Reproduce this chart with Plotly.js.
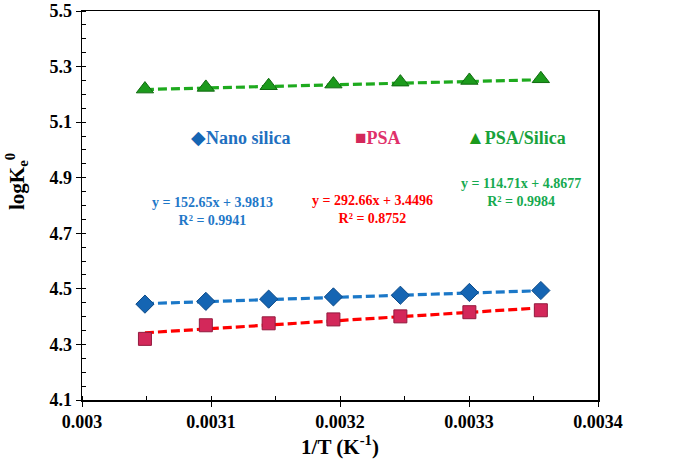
<!DOCTYPE html>
<html>
<head>
<meta charset="utf-8">
<script src="https://cdn.plot.ly/plotly-3.0.1.min.js"></script>
<style>html,body{margin:0;padding:0;background:#fff;}#chart{width:685px;height:464px;}</style>
</head>
<body>
<div id="chart"></div>
<script>
// 1/T values (K^-1) for 328, 323, 318, 313, 308, 303, 298 K
const invT = [0.0030488, 0.0030960, 0.0031447, 0.0031949, 0.0032468, 0.0033003, 0.0033557];
const nanoSilica = [4.445, 4.455, 4.463, 4.471, 4.477, 4.487, 4.494];
const psa = [4.320, 4.369, 4.376, 4.390, 4.401, 4.416, 4.423];
const psaSilica = [5.219, 5.225, 5.231, 5.237, 5.244, 5.250, 5.256];

const seriesNames = ["Nano silica", "PSA", "PSA/Silica"];
const slopes = [152.65, 292.66, 114.71];
const intercepts = [3.9813, 3.4496, 4.8677];
const r2 = ["0.9941", "0.8752", "0.9984"];

const xTicks = [0.003, 0.0031, 0.0032, 0.0033, 0.0034];
const xTickText = ["0.003", "0.0031", "0.0032", "0.0033", "0.0034"];
const yTicks = [4.1, 4.3, 4.5, 4.7, 4.9, 5.1, 5.3, 5.5];

const ys = [nanoSilica, psa, psaSilica];
const lineColors = ["#1B78C8", "#FF0000", "#1EAA1E"];
const markerColors = ["#1565B3", "#D3285A", "#1C9A1C"];
const markerEdge = ["#0C4A88", "#931A3E", "#0F6A0F"];
const symbols = ["diamond", "square", "triangle-up"];
const sizes = [14, 13, 15];
const textColors = ["#1F70C0", "#E0306A", "#17A23A"];
const eqColors = ["#1F78C8", "#FF0000", "#16AA50"];

const T = 11, B = 64, L = 82, R = 87;
const PH = 464 - T - B, PW = 685 - L - R;

const traces = [];
for (let i = 0; i < 3; i++) {
  const xs = [invT[0], invT[invT.length - 1]];
  traces.push({
    x: xs, y: xs.map(v => slopes[i] * v + intercepts[i]),
    mode: "lines", type: "scatter", showlegend: false, hoverinfo: "skip",
    line: {color: lineColors[i], width: 3.2, dash: "9px,4px"}
  });
}
for (let i = 0; i < 3; i++) {
  traces.push({
    x: invT, y: ys[i], mode: "markers", type: "scatter", name: seriesNames[i], showlegend: false,
    marker: {symbol: symbols[i], size: sizes[i], color: markerColors[i], line: {color: markerEdge[i], width: 1}}
  });
}

const glyphs = ["◆", "■", "▲"];
const legendPos = [[189, 137], [353, 137], [464, 137]];
const eqPos = [[212, 211], [372, 209], [521, 193]];
const serif = "Liberation Serif, Times New Roman, serif";

const annotations = [];
for (let i = 0; i < 3; i++) {
  annotations.push({
    xref: "paper", yref: "paper", xanchor: "left", yanchor: "middle",
    x: (legendPos[i][0] - L) / PW, y: 1 - (legendPos[i][1] - T) / PH,
    showarrow: false,
    text: '<span style="color:' + markerColors[i] + ';font-size:19px">' + glyphs[i] + '</span><b>' + seriesNames[i] + '</b>',
    font: {family: serif, size: 18, color: textColors[i]}
  });
  const sign = intercepts[i] >= 0 ? " + " : " - ";
  annotations.push({
    xref: "paper", yref: "paper", xanchor: "center", yanchor: "middle",
    x: (eqPos[i][0] - L) / PW, y: 1 - (eqPos[i][1] - T) / PH,
    showarrow: false, align: "center",
    text: "<b>y = " + slopes[i].toFixed(2) + "x" + sign + Math.abs(intercepts[i]).toFixed(4) + "</b><br><b>R² = " + r2[i] + "</b>",
    font: {family: serif, size: 14, color: eqColors[i]}
  });
}
// y-axis title placed as rotated annotation
annotations.push({
  xref: "paper", yref: "paper", xanchor: "center", yanchor: "middle",
  x: (16 - L) / PW, y: 1 - (182 - T) / PH, textangle: -90, showarrow: false,
  text: "<b>logK<sub>e</sub><sup>0</sup></b>",
  font: {family: serif, size: 21, color: "#000"}
});

const axisFont = {family: serif, size: 18, color: "#000"};
const layout = {
  width: 685, height: 464,
  margin: {l: L, r: R, t: T, b: B},
  paper_bgcolor: "#fff", plot_bgcolor: "#fff",
  showlegend: false,
  font: {family: serif, color: "#000"},
  xaxis: {
    range: [0.003, 0.0034], tickvals: xTicks, ticktext: xTickText.map(t => "<b>" + t + "</b>"),
    showgrid: false, zeroline: false, showline: true, linecolor: "#000", linewidth: 1.5, mirror: true,
    ticks: "outside", ticklen: 5, tickcolor: "#000", tickwidth: 1,
    minor: {dtick: 0.00005, ticks: "inside", ticklen: 4, tickcolor: "#000", showgrid: false},
    tickfont: axisFont,
    title: {text: "<b>1/T (K<sup>-1</sup>)</b>", font: {family: serif, size: 21, color: "#000"}, standoff: 6}
  },
  yaxis: {
    range: [4.1, 5.5], tickvals: yTicks, ticktext: yTicks.map(t => "<b>" + t.toFixed(1) + "</b>"),
    showgrid: false, zeroline: false, showline: true, linecolor: "#000", linewidth: 1.5, mirror: true,
    ticks: "outside", ticklen: 5, tickcolor: "#000", tickwidth: 1,
    minor: {dtick: 0.05, ticks: "inside", ticklen: 4, tickcolor: "#000", showgrid: false},
    tickfont: axisFont
  },
  annotations: annotations
};

Plotly.newPlot("chart", traces, layout, {displayModeBar: false, staticPlot: true});
</script>
</body>
</html>
